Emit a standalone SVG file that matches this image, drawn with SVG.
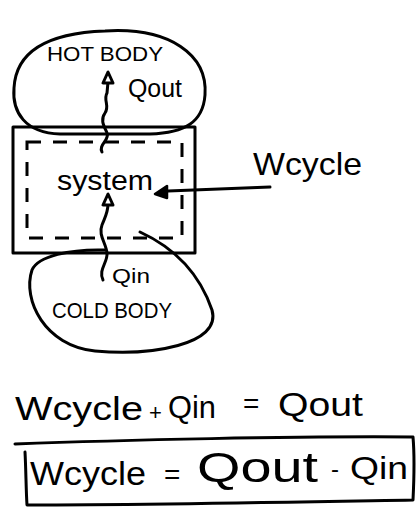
<svg xmlns="http://www.w3.org/2000/svg" width="417" height="510" viewBox="0 0 417 510">
<style>
.s{fill:none;stroke:#000;stroke-width:3;stroke-linecap:round;stroke-linejoin:round}
.d{fill:none;stroke:#000;stroke-width:3;stroke-dasharray:14 12}
.h{fill:#000;stroke:#000;stroke-width:2.5;stroke-linejoin:round}
.o{fill:#fff;stroke:#000;stroke-width:3;stroke-linejoin:round}
text{font-family:"Liberation Sans",Arial,sans-serif;fill:#000}
</style>
<rect width="417" height="510" fill="#fff"/>
<g id="hot-body">
<path class="s" d="M105 31 C170 27 208 55 205 95 C203 122 185 133 150 134 L60 134 C25 133 12 112 14 88 C16 50 50 33 105 31 Z"/>
<text x="47" y="61" font-size="21" textLength="116" lengthAdjust="spacingAndGlyphs">HOT BODY</text>
</g>
<g id="system">
<rect class="s" x="13" y="127" width="182" height="126"/>
<rect class="d" x="27" y="142" width="155" height="96"/>
<text x="57" y="190" font-size="27" textLength="96" lengthAdjust="spacingAndGlyphs">system</text>
</g>
<g id="cold-body">
<path class="s" d="M140 232 C175 248 200 275 212 310 C222 345 150 356 95 351 C45 346 22 300 32 270 C38 256 70 249 105 250"/>
<text x="52" y="318" font-size="22" textLength="120" lengthAdjust="spacingAndGlyphs">COLD BODY</text>
</g>
<g id="wcycle-label">
<text x="253" y="175" font-size="32" textLength="109" lengthAdjust="spacingAndGlyphs">Wcycle</text>
</g>
<g id="connectors">
<path class="s" d="M102 152 C98 145 110 140 107 133 C104 126 100 120 105 113 C110 106 103 100 107 93 L108 82"/>
<path class="o" d="M108 72 L103 83 L113 83 Z"/>
<text x="128" y="97" font-size="25" textLength="54" lengthAdjust="spacingAndGlyphs">Qout</text>
<path class="s" d="M103 280 C98 270 108 262 107 253 C106 243 98 235 102 225 C106 215 108 212 108 204"/>
<path class="o" d="M108 194 L103 205 L113 205 Z"/>
<text x="112" y="283" font-size="21" textLength="38" lengthAdjust="spacingAndGlyphs">Qin</text>
<path class="s" d="M270 187 L168 191"/>
<path class="h" d="M155 194 L167 186 L167 198 Z"/>
</g>
<g id="equations">
<text x="15" y="420" font-size="33" textLength="128" lengthAdjust="spacingAndGlyphs">Wcycle</text>
<text x="149" y="420" font-size="22">+</text>
<text x="168" y="418" font-size="32" textLength="48" lengthAdjust="spacingAndGlyphs">Qin</text>
<text x="243" y="413" font-size="28">=</text>
<text x="278" y="416" font-size="34" textLength="85" lengthAdjust="spacingAndGlyphs">Qout</text>
<path class="s" d="M15 444 C120 440 300 436 413 437 C415 460 414 480 413 500 C300 502 150 505 27 505 C26 490 26 470 25 452"/>
<text x="30" y="485" font-size="33" textLength="116" lengthAdjust="spacingAndGlyphs">Wcycle</text>
<text x="164" y="484" font-size="28">=</text>
<text x="197" y="482" font-size="42" textLength="121" lengthAdjust="spacingAndGlyphs">Qout</text>
<text x="331" y="477" font-size="24">-</text>
<text x="350" y="479" font-size="31" textLength="58" lengthAdjust="spacingAndGlyphs">Qin</text>
</g>
</svg>
